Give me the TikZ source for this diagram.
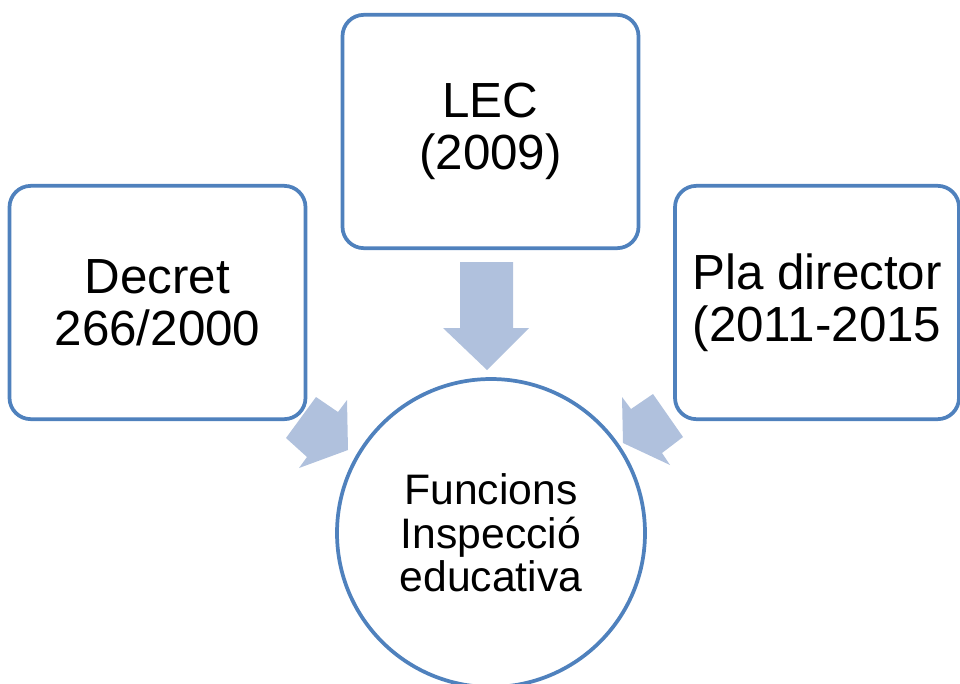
\documentclass[tikz,border=0pt]{standalone}
\usepackage{fontspec}
\setmainfont{Liberation Sans}
\usepackage{tikz}
\definecolor{boxblue}{RGB}{79,129,189}
\definecolor{arrowblue}{RGB}{176,193,221}

\begin{document}
\begin{tikzpicture}[x=0.75pt, y=-0.75pt,
                    box/.style={draw=boxblue, line width=2.8pt, rounded corners=16pt, fill=white,
                                minimum width=222pt, minimum height=175pt, inner sep=0pt,
                                align=center, font=\fontsize{37}{39}\selectfont},
                    hub/.style={circle, draw=boxblue, line width=2.8pt, fill=white,
                                minimum size=231pt, inner sep=0pt,
                                align=center, font=\fontsize{32}{32.5}\selectfont},
                    blockarrow/.style={fill=arrowblue}]
                    \useasboundingbox (0,0) rectangle (960,683);
                    \clip (0,0) rectangle (960,683);

                    % Nodes
                    \node[box] (decret) at (157.5,302.5) {Decret\\266/2000};
                    \node[box] (lec) at (490.5,131.5) {LEC\\(2009)};
                    \node[box, minimum width=213pt] (pla) at (817,302.5) {Pla director\\(2011-2015};
                    \node[hub] (funcions) at (491,533) {Funcions\\Inspecció\\educativa};

                    % Block arrows (the side ones are cut flat near the circle)
                    % lec -> funcions
                    \fill[blockarrow] (460,262) -- (513,262) -- (513,328) -- (529,328)
                                      -- (487,370) -- (443,328) -- (460,328) -- cycle;
                    % decret -> funcions
                    \fill[blockarrow] (316,397) -- (338,412) -- (347,400) -- (348,450)
                                      -- (299,468) -- (307,457) -- (286,438) -- cycle;
                    % pla -> funcions
                    \fill[blockarrow] (653,394) -- (631,409) -- (622,397) -- (623,443)
                                      -- (670,465) -- (662,453) -- (683,437) -- cycle;
                \end{tikzpicture}
\end{document}
